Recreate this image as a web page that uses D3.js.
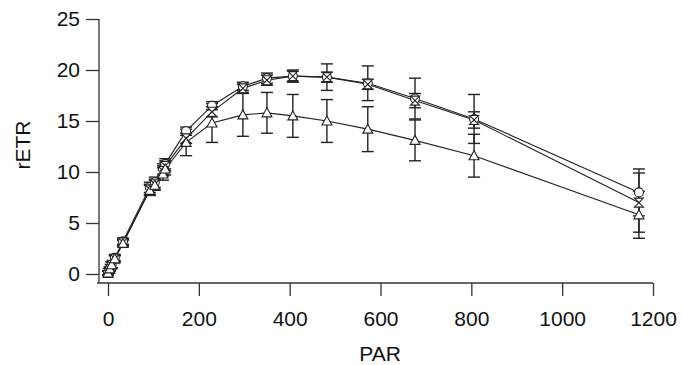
<!DOCTYPE html>
<html>
<head>
<meta charset="utf-8">
<script src="https://cdn.jsdelivr.net/npm/d3@7"></script>
<style>
html,body{margin:0;padding:0;background:#fff;}
svg{display:block;}
text{font-family:"Liberation Sans",Arial,sans-serif;fill:#111;}
</style>
</head>
<body>
<svg id="chart" width="682" height="365"></svg>
<script>
// ---- data ----
const par        = [0, 4, 8, 15, 33, 92, 103, 121, 126, 172, 229, 297, 350, 407, 482, 572, 676, 806, 1169];
const circleMean = [0.1, 0.5, 0.9, 1.6, 3.2, 8.5, 9.0, 10.3, 10.8, 14.0, 16.5, 18.4, 19.2, 19.4, 19.3, 18.7, 17.2, 15.2, 8.0];
const circleErr  = [0.2, 0.2, 0.3, 0.3, 0.3, 0.5, 0.5, 0.5, 0.5, 0.4, 0.4, 0.4, 0.5, 0.6, 1.3, 1.7, 2.0, 2.4, 2.3];
const crossMean  = [0.1, 0.5, 0.9, 1.5, 3.1, 8.3, 8.8, 10.1, 10.6, 13.3, 15.9, 18.2, 19.0, 19.4, 19.3, 18.6, 17.0, 15.1, 7.0];
const crossErr   = [0.2, 0.2, 0.3, 0.3, 0.3, 0.5, 0.5, 0.5, 0.5, 0.5, 0.5, 0.4, 0.5, 0.5, 0.5, 0.5, 0.7, 0.8, 2.9];
const triMean    = [0.1, 0.5, 0.9, 1.5, 3.0, 8.2, 8.7, 9.8, 10.3, 12.9, 14.8, 15.6, 15.8, 15.5, 15.0, 14.2, 13.1, 11.6, 5.8];
const triErr     = [0.2, 0.2, 0.3, 0.3, 0.3, 0.5, 0.5, 0.6, 0.6, 1.3, 1.9, 2.1, 2.0, 2.1, 2.1, 2.2, 2.0, 2.1, 2.3];
const xTicks = [0, 200, 400, 600, 800, 1000, 1200];
const yTicks = [0, 5, 10, 15, 20, 25];
const xTitle = "PAR";
const yTitle = "rETR";

const svg = d3.select("#chart");
const x = d3.scaleLinear().domain([0, 1200]).range([108, 653]);
const y = d3.scaleLinear().domain([0, 25]).range([274, 19]);
const axisX = 99, axisY = 283;

// axes
const gy = svg.append("g").attr("transform", `translate(${axisX},0)`)
  .call(d3.axisLeft(y).tickValues(yTicks).tickFormat(d3.format("d")).tickSize(13).tickPadding(6).tickSizeOuter(0));
gy.select(".domain").remove();
gy.append("line").attr("x1",0).attr("x2",0).attr("y1",y(25)).attr("y2",axisY).attr("stroke","#333").attr("stroke-width",1.3);
const gx = svg.append("g").attr("transform", `translate(0,${axisY})`)
  .call(d3.axisBottom(x).tickValues(xTicks).tickFormat(d3.format("d")).tickSize(13).tickPadding(15).tickSizeOuter(0));
gx.select(".domain").remove();
gx.append("line").attr("x1",axisX-2).attr("x2",x(1200)).attr("y1",0).attr("y2",0).attr("stroke","#333").attr("stroke-width",1.3);
svg.selectAll(".tick line").attr("stroke","#333").attr("stroke-width",1.3);
svg.selectAll(".tick text").style("font-size","21px").style("font-family",'"Liberation Sans",Arial,sans-serif').attr("fill","#111");

svg.append("text").attr("x", 380).attr("y", 361).attr("text-anchor","middle").style("font-size","21px").text(xTitle);
svg.append("text").attr("transform","translate(30,145) rotate(-90)").attr("text-anchor","middle").style("font-size","21px").text(yTitle);

const series = [
  {mean: circleMean, err: circleErr, shape: "circle"},
  {mean: crossMean, err: crossErr, shape: "cross"},
  {mean: triMean, err: triErr, shape: "tri"}
];

const line = d3.line().x(d => x(d[0])).y(d => y(d[1]));
series.forEach(s => {
  svg.append("path").datum(par.map((p,i) => [p, s.mean[i]]))
    .attr("d", line).attr("fill","none").attr("stroke","#222").attr("stroke-width",1.1);
});
// error bars
series.forEach(s => {
  const g = svg.append("g").attr("stroke","#222").attr("stroke-width",1.4);
  par.forEach((p,i) => {
    const cx = x(p), top = y(s.mean[i] + s.err[i]), bot = y(s.mean[i] - s.err[i]);
    g.append("line").attr("x1",cx).attr("x2",cx).attr("y1",top).attr("y2",bot);
    g.append("line").attr("x1",cx-6).attr("x2",cx+6).attr("y1",top).attr("y2",top);
    g.append("line").attr("x1",cx-6).attr("x2",cx+6).attr("y1",bot).attr("y2",bot);
  });
});
// markers
series.forEach(s => {
  const g = svg.append("g").attr("stroke","#222").attr("stroke-width",1.1).attr("fill","#fff");
  par.forEach((p,i) => {
    const cx = x(p), cy = y(s.mean[i]);
    if (s.shape === "circle") {
      g.append("circle").attr("cx",cx).attr("cy",cy).attr("r",4.5);
    } else if (s.shape === "cross") {
      g.append("path").attr("transform",`translate(${cx},${cy})`).attr("d","M-4.5,-4.5L4.5,-4.5L-4.5,4.5L4.5,4.5Z");
    } else {
      g.append("path").attr("transform",`translate(${cx},${cy})`).attr("d","M0,-5L5,4L-5,4Z");
    }
  });
});
</script>
</body>
</html>
